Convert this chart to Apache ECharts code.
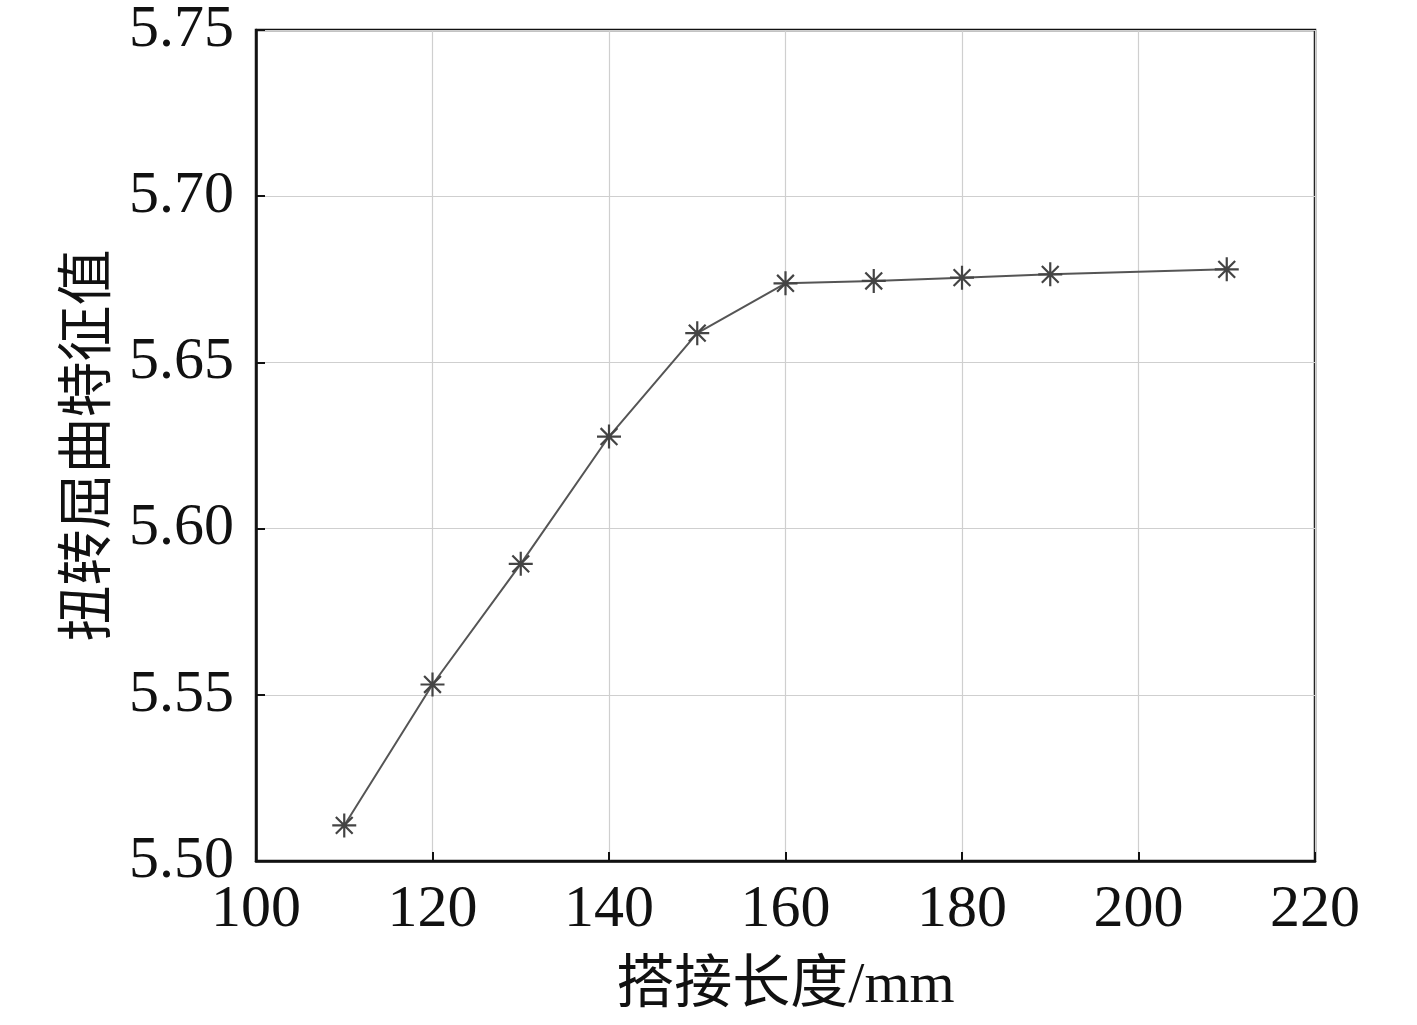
<!DOCTYPE html>
<html>
<head>
<meta charset="utf-8">
<script src="https://cdn.jsdelivr.net/npm/echarts@6/dist/echarts.min.js"></script>
<style>
html,body{margin:0;padding:0;background:#fff;}
#chart{width:1417px;height:1025px;}
</style>
</head>
<body>
<div id="chart"></div>
<script>
var lapLength = [110, 120, 130, 140, 150, 160, 170, 180, 190, 210];
var eigenValue = [5.5107, 5.5531, 5.5894, 5.6277, 5.6588, 5.6738, 5.6745, 5.6755, 5.6765, 5.6780];
var xTitle = '搭接长度/mm';
var yTitle = '扭转屈曲特征值';

var FONT = "'Liberation Serif', 'Times New Roman', 'Noto Sans CJK SC', serif";
var chart = echarts.init(document.getElementById('chart'));
var pts = lapLength.map(function (x, i) { return [x, eigenValue[i]]; });
chart.setOption({
  backgroundColor: '#fff',
  animation: false,
  grid: { left: 256, right: 102, top: 30, bottom: 164, show: true, borderColor: '#111', borderWidth: 2.5, backgroundColor: 'transparent' },
  xAxis: {
    type: 'value', min: 100, max: 220, interval: 20,
    name: xTitle, nameLocation: 'middle', nameGap: 97,
    nameTextStyle: { fontFamily: FONT, fontSize: 58, color: '#111' },
    axisLine: { show: true, lineStyle: { color: '#111', width: 2.5 } },
    axisTick: { show: true, inside: true, length: 9, lineStyle: { color: '#111', width: 2 } },
    axisLabel: { fontFamily: FONT, fontSize: 60, color: '#111', margin: 19 },
    splitLine: { show: true, lineStyle: { color: '#cfcfcf', width: 1.2 } }
  },
  yAxis: {
    type: 'value', min: 5.50, max: 5.75, interval: 0.05,
    name: yTitle, nameLocation: 'middle', nameGap: 136, nameRotate: 90,
    nameTextStyle: { fontFamily: FONT, fontSize: 56, color: '#111' },
    axisLine: { show: true, lineStyle: { color: '#111', width: 2.5 } },
    axisTick: { show: true, inside: true, length: 9, lineStyle: { color: '#111', width: 2 } },
    axisLabel: { fontFamily: FONT, fontSize: 60, color: '#111', margin: 22,
      formatter: function (v) { return v.toFixed(2); } },
    splitLine: { show: true, lineStyle: { color: '#cfcfcf', width: 1.2 } }
  },
  series: [{
    type: 'line',
    data: pts,
    lineStyle: { color: '#555', width: 2 },
    symbol: 'path://M0,-10L0,10M-10,0L10,0M-7,-7L7,7M-7,7L7,-7',
    symbolSize: 24,
    itemStyle: { color: 'rgba(0,0,0,0)', borderColor: '#444', borderWidth: 2.2 }
  }]
});
</script>
</body>
</html>
